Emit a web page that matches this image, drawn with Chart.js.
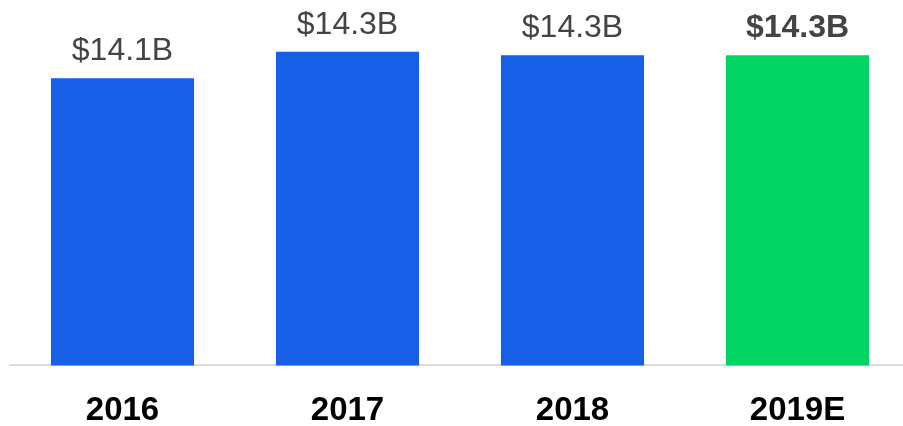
<!DOCTYPE html>
<html>
<head>
<meta charset="utf-8">
<script src="https://cdn.jsdelivr.net/npm/chart.js@4"></script>
<style>
html,body{margin:0;padding:0;background:#fff;overflow:hidden;}
#wrap{width:913px;height:426px;position:relative;}
</style>
</head>
<body>
<div id="wrap"><canvas id="c"></canvas></div>
<script>
const categories = ['2016', '2017', '2018', '2019E'];
const revenue = [14.1, 14.33, 14.3, 14.3];
const valueLabels = ['$14.1B', '$14.3B', '$14.3B', '$14.3B'];
const boldLabel = [false, false, false, true];
const barColors = ['#175FE6', '#175FE6', '#175FE6', '#00D563'];

const labelPlugin = {
  id: 'valueLabels',
  afterDatasetsDraw(chart) {
    const ctx = chart.ctx;
    const meta = chart.getDatasetMeta(0);
    ctx.save();
    ctx.textAlign = 'center';
    ctx.textBaseline = 'alphabetic';
    ctx.fillStyle = '#444444';
    meta.data.forEach((bar, i) => {
      ctx.font = (boldLabel[i] ? 'bold ' : '') + '32px "Liberation Sans", Arial, sans-serif';
      ctx.fillText(valueLabels[i], bar.x, bar.y - 18);
    });
    ctx.restore();
  }
};

new Chart(document.getElementById('c'), {
  type: 'bar',
  data: {
    labels: categories,
    datasets: [{
      data: revenue,
      backgroundColor: barColors,
      borderWidth: 0,
      categoryPercentage: 1,
      barPercentage: 0.636
    }]
  },
  options: {
    responsive: true,
    maintainAspectRatio: false,
    animation: false,
    devicePixelRatio: 1,
    layout: { padding: { left: 10, right: 3, top: 0, bottom: -31 } },
    plugins: { legend: { display: false }, tooltip: { enabled: false } },
    scales: {
      x: {
        grid: { display: false, drawTicks: false },
        border: { display: true, color: '#dcdcdc', width: 2 },
        ticks: {
          color: '#000',
          padding: 26,
          font: { family: '"Liberation Sans", Arial, sans-serif', size: 33, weight: 'bold' }
        }
      },
      y: {
        display: false,
        min: 11.6,
        max: 14.78
      }
    }
  },
  plugins: [labelPlugin]
});
</script>
</body>
</html>
